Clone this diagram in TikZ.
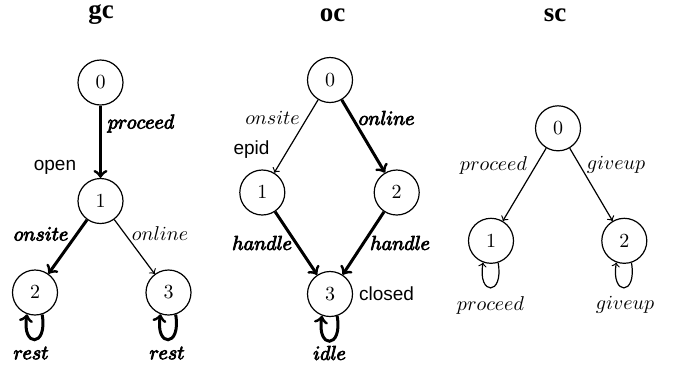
\documentclass[tikz,border=0pt]{standalone}
\usepackage{fontspec}
\newfontfamily\lblsans{Liberation Sans}
\newfontfamily\ttlserif{Liberation Serif}
\newfontfamily\bmi[FakeBold=4]{Latin Modern Math}
\begin{document}
\begin{tikzpicture}[x=0.5pt,y=-0.5pt,
  state/.style={circle,draw,line width=0.6pt,minimum size=22.5pt,inner sep=0pt,font=\fontsize{10}{12}\selectfont},
  strong/.style={->,line width=1.5pt},
  weak/.style={->,line width=0.6pt},
  ttl/.style={inner sep=0pt,font=\ttlserif\bfseries\fontsize{13.5}{16}\selectfont},
  sans/.style={font=\lblsans\fontsize{9.5}{11}\selectfont,inner sep=0pt},
  lbl/.style={inner sep=0pt,font=\fontsize{10}{12}\selectfont},
  blbl/.style={inner sep=0pt,font=\bmi\fontsize{10}{12}\selectfont}]
\useasboundingbox (0,0) rectangle (673,372);
% gc
\node[ttl] (tgc) at (101,15) {gc};
\node[state] (g0) at (100.5,82.5) {$0$};
\node[state] (g1) at (100.5,201) {$1$};
\node[state] (g2) at (35,292.5) {$2$};
\node[state] (g3) at (168.5,292.5) {$3$};
\draw[strong] (g0) -- (g1);
\draw[strong] (g1) -- (g2);
\draw[weak] (g1) -- (g3);
\draw[strong] (g2.-72) .. controls +(-80:17pt) and +(-100:17pt) .. (g2.-110);
\draw[strong] (g3.-72) .. controls +(-80:17pt) and +(-100:17pt) .. (g3.-110);
\node[blbl] (lg01) at (141,123.5) {𝑝𝑟𝑜𝑐𝑒𝑒𝑑};
\node[sans] (lopen) at (55,167) {open};
\node[blbl] (lg12) at (41,234) {𝑜𝑛𝑠𝑖𝑡𝑒};
\node[lbl] (lg13) at (160,234) {$online$};
\node[blbl] (lg22) at (31,353) {𝑟𝑒𝑠𝑡};
\node[blbl] (lg33) at (167,353) {𝑟𝑒𝑠𝑡};
% oc
\node[ttl] (toc) at (332.5,15) {oc};
\node[state] (o0) at (330,80) {$0$};
\node[state] (o1) at (262.3,192.5) {$1$};
\node[state] (o2) at (396.7,192.5) {$2$};
\node[state] (o3) at (330,294) {$3$};
\draw[weak] (o0) -- (o1);
\draw[strong] (o0) -- (o2);
\draw[strong] (o1) -- (o3);
\draw[strong] (o2) -- (o3);
\draw[strong] (o3.-72) .. controls +(-80:17pt) and +(-100:17pt) .. (o3.-110);
\node[lbl] (lo01) at (272.5,118) {$onsite$};
\node[blbl] (lo02) at (386.5,118) {𝑜𝑛𝑙𝑖𝑛𝑒};
\node[sans] (lepid) at (251.5,150) {epid};
\node[blbl] (lo13) at (262,243) {ℎ𝑎𝑛𝑑𝑙𝑒};
\node[blbl] (lo23) at (400,243) {ℎ𝑎𝑛𝑑𝑙𝑒};
\node[sans] (lclosed) at (386.5,294) {closed};
\node[blbl] (lo33) at (329.5,353) {𝑖𝑑𝑙𝑒};
% sc
\node[ttl] (tsc) at (555,15) {sc};
\node[state] (s0) at (558,128.3) {$0$};
\node[state] (s1) at (491,240.8) {$1$};
\node[state] (s2) at (624.3,240.8) {$2$};
\draw[weak] (s0) -- (s1);
\draw[weak] (s0) -- (s2);
\draw[weak] (s1.-72) .. controls +(-80:17pt) and +(-100:17pt) .. (s1.-110);
\draw[weak] (s2.-72) .. controls +(-80:17pt) and +(-100:17pt) .. (s2.-110);
\node[lbl] (ls01) at (493.5,165) {$proceed$};
\node[lbl] (ls02) at (616,165) {$giveup$};
\node[lbl] (ls11) at (490.5,305) {$proceed$};
\node[lbl] (ls22) at (625,305) {$giveup$};
\end{tikzpicture}
\end{document}
